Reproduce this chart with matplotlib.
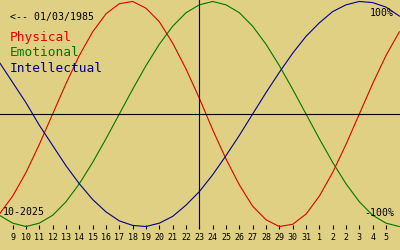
import numpy as np
import matplotlib
matplotlib.use("Agg")
import matplotlib.pyplot as plt

# days shown on the axis (index 14 = today)
day_labels = ['9', '10', '11', '12', '13', '14', '15', '16', '17', '18', '19', '20',
              '21', '22', '23', '24', '25', '26', '27', '28', '29', '30', '31',
              '1', '2', '2', '3', '4', '5']
today = 14

# curve values in percent, read at day index -1 .. 29
curve_days = list(range(-1, 30))
physical = [-89, -73, -52, -27, 0, 27, 52, 73, 89, 98, 100, 94, 82, 63, 40, 14,
            -14, -40, -63, -82, -94, -100, -98, -89, -73, -52, -27, 0, 27, 52, 73]
emotional = [-90, -97, -100, -97, -90, -78, -62, -43, -22, 0, 22, 43, 62, 78, 90, 97,
             100, 97, 90, 78, 62, 43, 22, 0, -22, -43, -62, -78, -90, -97, -100]
intellectual = [46, 28, 10, -10, -28, -46, -62, -76, -87, -95, -99, -100, -97, -91, -81,
                -69, -54, -37, -19, 0, 19, 37, 54, 69, 81, 91, 97, 100, 99, 95, 87]

bg = '#e0d084'
mono = 'DejaVu Sans Mono'

fig = plt.figure(figsize=(4, 2.5), dpi=100, facecolor=bg)
ax = fig.add_axes([0, 21 / 250, 1, 229 / 250])
ax.set_facecolor(bg)

ax.plot(curve_days, physical, color='#e00000', lw=0.8)
ax.plot(curve_days, emotional, color='#007800', lw=0.8)
ax.plot(curve_days, intellectual, color='#000090', lw=0.8)

ax.axhline(0, color='black', lw=0.8)
ax.axvline(today, color='black', lw=0.8)

ax.set_xlim(-0.95, 29.05)
ax.set_ylim(-102.2, 101.3)

for s in ax.spines.values():
    s.set_visible(False)
ax.set_yticks([])
ax.set_xticks(range(len(day_labels)))
ax.set_xticklabels(day_labels, family=mono, fontsize=6)
ax.tick_params(axis='x', direction='in', length=3, width=0.8, pad=3, colors='black')

fig.text(10 / 400, 1 - 16.5 / 250, '<-- 01/03/1985', fontsize=7.1, family=mono,
         va='center', ha='left')
fig.text(10 / 400, 1 - 38 / 250, 'Physical', fontsize=9.3, family=mono,
         color='#e00000', va='center', ha='left')
fig.text(10 / 400, 1 - 53 / 250, 'Emotional', fontsize=9.3, family=mono,
         color='#007800', va='center', ha='left')
fig.text(10 / 400, 1 - 68 / 250, 'Intellectual', fontsize=9.3, family=mono,
         color='#000090', va='center', ha='left')
fig.text(394 / 400, 1 - 12.7 / 250, '100%', fontsize=7.1, family=mono,
         va='center', ha='right')
fig.text(394 / 400, 1 - 212.7 / 250, '-100%', fontsize=7.1, family=mono,
         va='center', ha='right')
fig.text(3 / 400, 1 - 212 / 250, '10-2025', fontsize=7.1, family=mono,
         va='center', ha='left')

fig.savefig('out.png', dpi=100, facecolor=bg)
